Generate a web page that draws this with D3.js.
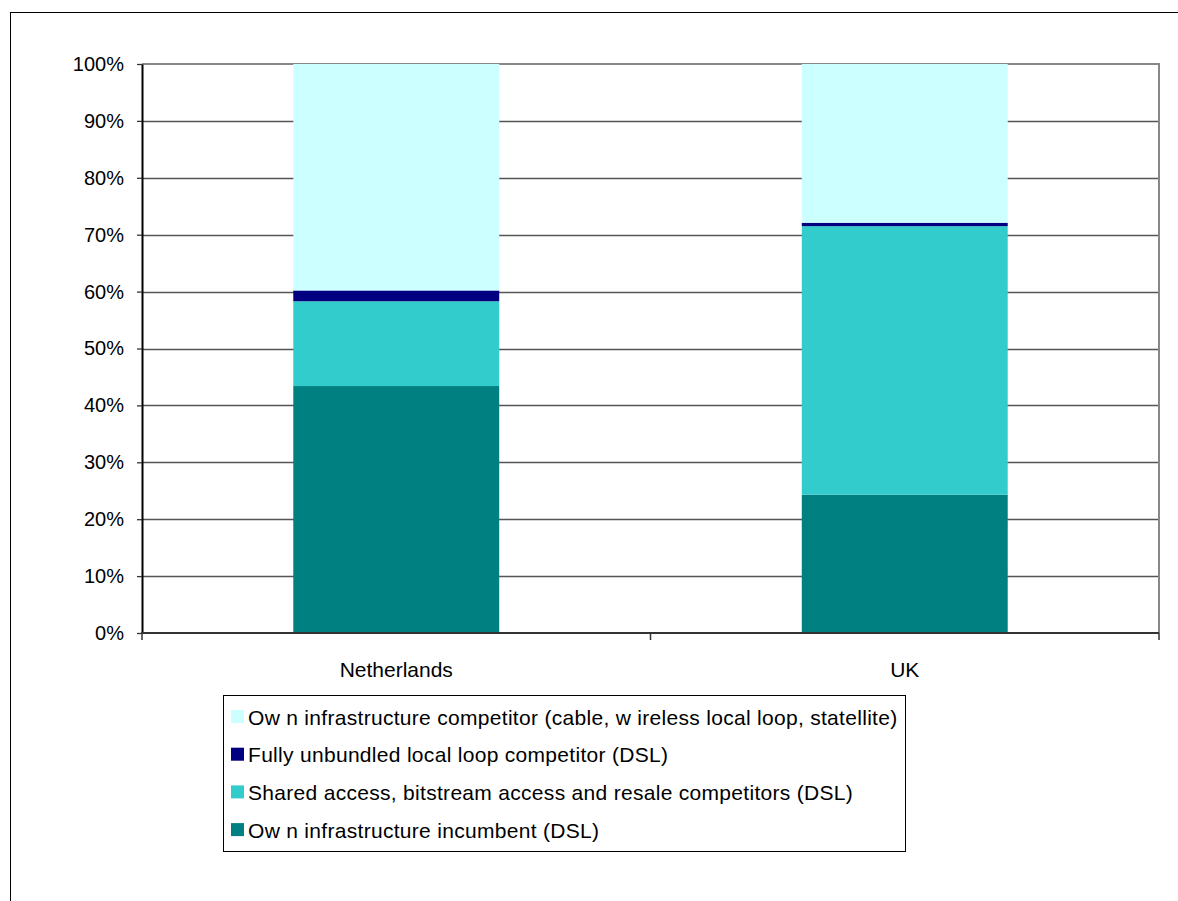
<!DOCTYPE html>
<html>
<head>
<meta charset="utf-8">
<script src="https://cdn.jsdelivr.net/npm/d3@7"></script>
<style>
  body { margin: 0; background: #fff; }
  svg text { font-family: "Liberation Sans", Arial, sans-serif; fill: #000; }
</style>
</head>
<body>
<svg id="chart" width="1178" height="901"></svg>
<script>
// categories and stacked series (percent of broadband lines)
const countries = ["Netherlands", "UK"]
const seriesNames = [
    "Ow n infrastructure incumbent (DSL)",
    "Shared access, bitstream access and resale competitors (DSL)",
    "Fully unbundled local loop competitor (DSL)",
    "Ow n infrastructure competitor (cable, w ireless local loop, statellite)"
]
const incumbent = [43.4, 24.3]
const sharedAccess = [14.9, 47.2]
const fullyUnbundled = [1.9, 0.6]
const ownCompetitor = [39.8, 27.9]
const seriesColors = ["#008080", "#33CCCC", "#000080", "#CCFFFF"]
const yTicks = [0, 10, 20, 30, 40, 50, 60, 70, 80, 90, 100]

const svg = d3.select("#chart")

// outer chart frame (right / bottom edges fall outside the picture)
svg.append("rect")
   .attr("x", 10.5).attr("y", 12.5)
   .attr("width", 1300).attr("height", 1000)
   .attr("fill", "none").attr("stroke", "#000").attr("stroke-width", 1)

const plot = {left: 142, top: 64, right: 1159, bottom: 633}

const x = d3.scaleBand()
            .domain(countries)
            .range([plot.left, plot.right])
            .paddingInner(0.595)
            .paddingOuter(0.2975)

const y = d3.scaleLinear()
            .domain([0, 100])
            .range([plot.bottom, plot.top])

// gridlines
svg.append("g")
   .selectAll("line")
   .data(yTicks.slice(1, -1))
   .enter()
   .append("line")
   .attr("x1", plot.left).attr("x2", plot.right)
   .attr("y1", d => Math.round(y(d)) + 0.5).attr("y2", d => Math.round(y(d)) + 0.5)
   .attr("stroke", "#555").attr("stroke-width", 1.3)

// plot area border (top + right)
svg.append("path")
   .attr("d", `M${plot.left},${plot.top} H${plot.right} V${plot.bottom}`)
   .attr("fill", "none").attr("stroke", "#888").attr("stroke-width", 2)

// stacked bars
const rows = countries.map((c, i) => ({
    country: c,
    s0: incumbent[i], s1: sharedAccess[i], s2: fullyUnbundled[i], s3: ownCompetitor[i]
}))
const stack = d3.stack().keys(["s0", "s1", "s2", "s3"])(rows)

svg.append("g")
   .selectAll("g")
   .data(stack)
   .enter()
   .append("g")
   .attr("fill", (d, i) => seriesColors[i])
   .selectAll("rect")
   .data(d => d)
   .enter()
   .append("rect")
   .attr("x", d => x(d.data.country))
   .attr("width", x.bandwidth())
   .attr("y", d => y(d[1]))
   .attr("height", d => y(d[0]) - y(d[1]))

// y axis
const yAxis = d3.axisLeft(y)
                .tickValues(yTicks)
                .tickFormat(d => d + "%")
                .tickSize(5)
                .tickSizeOuter(0)
                .tickPadding(13)
const yg = svg.append("g")
              .attr("transform", `translate(${plot.left},0)`)
              .call(yAxis)
yg.select(".domain").attr("stroke", "#000").attr("stroke-width", 2)
yg.selectAll(".tick line").attr("stroke", "#333").attr("stroke-width", 1.3)
yg.selectAll("text").attr("font-size", 20).attr("fill", "#000")
  .attr("font-family", "Liberation Sans, Arial, sans-serif")

// x axis: baseline, ticks between categories, labels
const xg = svg.append("g")
svg.append("line")
   .attr("x1", plot.left - 1).attr("x2", plot.right)
   .attr("y1", plot.bottom).attr("y2", plot.bottom)
   .attr("stroke", "#333").attr("stroke-width", 2)
const bandStep = (plot.right - plot.left) / countries.length
xg.selectAll("line")
  .data(d3.range(countries.length + 1))
  .enter()
  .append("line")
  .attr("x1", i => plot.left + i * bandStep).attr("x2", i => plot.left + i * bandStep)
  .attr("y1", plot.bottom).attr("y2", plot.bottom + 7)
  .attr("stroke", "#333").attr("stroke-width", 1.5)
xg.selectAll("text")
  .data(countries)
  .enter()
  .append("text")
  .attr("x", d => x(d) + x.bandwidth() / 2)
  .attr("y", 677)
  .attr("text-anchor", "middle")
  .attr("font-size", 21)
  .text(d => d)

// legend
const legend = svg.append("g")
legend.append("rect")
      .attr("x", 223.5).attr("y", 695.5)
      .attr("width", 682).attr("height", 156)
      .attr("fill", "#fff").attr("stroke", "#000").attr("stroke-width", 1)

const legendOrder = [3, 2, 1, 0]
const items = legend.selectAll(".item")
                    .data(legendOrder)
                    .enter()
                    .append("g")
                    .attr("class", "item")
                    .attr("transform", (d, i) => `translate(231,${717 + i * 37.7})`)
items.append("rect")
     .attr("x", 0).attr("y", -7)
     .attr("width", 13).attr("height", 13)
     .attr("fill", d => seriesColors[d])
items.append("text")
     .attr("x", 17).attr("y", 7.5)
     .attr("font-size", 21)
     .attr("letter-spacing", 0.3)
     .text(d => seriesNames[d])
</script>
</body>
</html>
